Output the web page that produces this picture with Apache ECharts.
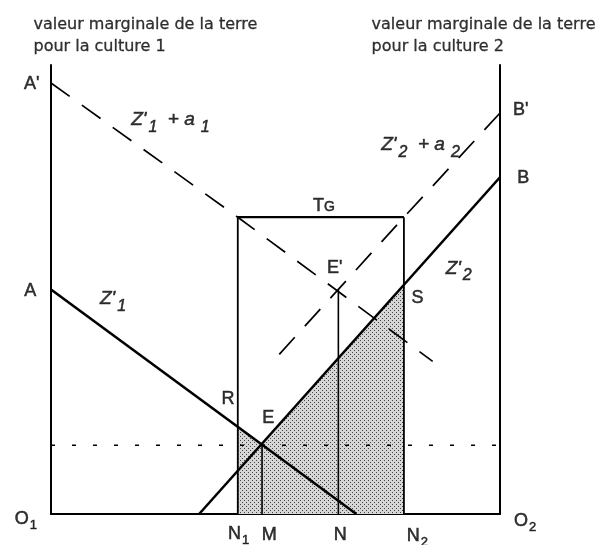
<!DOCTYPE html>
<html>
<head>
<meta charset="utf-8">
<script src="https://cdn.jsdelivr.net/npm/echarts@6/dist/echarts.min.js"></script>
<style>
  html, body { margin: 0; padding: 0; background: #fff; }
  #chart { width: 598px; height: 545px; }
</style>
</head>
<body>
<div id="chart"></div>
<script>
const chart = echarts.init(document.getElementById('chart'));

// curves (value units, 0..100 on both axes)
const curveZ1 = [[0, 50], [68, 0]];
const curveZ2 = [[33, 0], [100, 75]];
const curveZ1a = [[0, 96], [41.6, 66.1], [85, 34]];
const curveZ2a = [[100, 89.3], [78.6, 66.1], [50.6, 35.3]];
const tgLine = [[41.6, 66.1], [78.6, 66.1]];
const lineN1 = [[41.6, 0], [41.6, 66.1]];
const lineN2 = [[78.6, 0], [78.6, 66.1]];
const lineM = [[47, 0], [47, 15.4]];
const lineN = [[64, 0], [64, 50]];
const priceLevel = [[0, 15.3], [100, 15.3]];
// upper edge of the shaded area between N1 and N2 (R, E, S)
const shadedTop = [[41.6, 19.4], [47, 15.4], [78.6, 51]];

// text labels: [rich text, x, y, align]
const labels = [
  ['{h|valeur marginale de la terre}', -3.9, 108.9, 'left'],
  ['{h|pour la culture 1}', -3.9, 104.0, 'left'],
  ['{h|valeur marginale de la terre}', 71.4, 108.9, 'left'],
  ['{h|pour la culture 2}', 71.4, 104.0, 'left'],
  ["{p|A'}", -4.3, 95.4, 'center'],
  ['{p|A}', -4.6, 49.2, 'center'],
  ['{p|O}{s|1}', -5.6, -1.6, 'center'],
  ["{p|B'}", 104.6, 89.6, 'center'],
  ['{p|B}', 105.2, 74.4, 'center'],
  ['{p|O}{s|2}', 105.6, -2.0, 'center'],
  ["{i|Z'}{is|1}{i|  + a}{isr|1}", 26.6, 87.4, 'center'],
  ["{i|Z'}{is|2}{i|  + a}{isr|2}", 82.3, 81.8, 'center'],
  ["{i|Z'}{is|1}", 13.8, 47.6, 'center'],
  ["{i|Z'}{is|2}", 90.8, 54.4, 'center'],
  ['{tp|T}{tg|G}', 60.8, 68.9, 'center'],
  ["{p|E'}", 63.2, 54.4, 'center'],
  ['{p|S}', 81.6, 47.6, 'center'],
  ['{p|F}', 67.3, 30.9, 'center'],
  ['{p|R}', 39.4, 25.1, 'center'],
  ['{p|E}', 48.4, 20.9, 'center'],
  ['{p|G}', 68.9, 5.1, 'center'],
  ['{p|N}{s|1}', 41.8, -4.9, 'center'],
  ['{p|M}', 48.6, -5.1, 'center'],
  ['{p|N}', 64.4, -5.1, 'center'],
  ['{p|N}{s|2}', 81.6, -5.4, 'center']
];

// stipple for the shaded surface
const dots = document.createElement('canvas');
dots.width = 4; dots.height = 4;
const dctx = dots.getContext('2d');
dctx.fillStyle = '#d6d6d6';
dctx.fillRect(0, 0, 4, 4);
dctx.fillStyle = '#444';
dctx.fillRect(0, 0, 1, 1);
dctx.fillRect(2, 2, 1, 1);

const font = "'Liberation Sans', Arial, sans-serif";
const ink = '#000';
// thin outline in the ink colour makes the glyphs as heavy as the scan
const heavy = { color: ink, textBorderColor: ink, textBorderWidth: 0.5 };
const rich = {
  h: { ...heavy, fontSize: 16, fontFamily: "'DejaVu Sans', sans-serif", lineHeight: 18, textBorderWidth: 0.3 },
  p: { ...heavy, fontSize: 18, fontFamily: font, lineHeight: 22, verticalAlign: 'top' },
  s: { ...heavy, fontSize: 13, fontFamily: font, lineHeight: 14, padding: [9, 0, 0, 1], verticalAlign: 'top' },
  tp: { ...heavy, fontSize: 18, fontFamily: font, lineHeight: 20, verticalAlign: 'bottom' },
  tg: { ...heavy, fontSize: 14, fontFamily: font, lineHeight: 16, verticalAlign: 'bottom' },
  i: { ...heavy, fontSize: 19, fontFamily: font, fontStyle: 'italic', lineHeight: 22, verticalAlign: 'top' },
  is: { ...heavy, fontSize: 16, fontFamily: font, fontStyle: 'italic', lineHeight: 15, padding: [9, 0, 0, 2], verticalAlign: 'top' },
  isr: { ...heavy, fontSize: 16, fontFamily: font, fontStyle: 'italic', lineHeight: 15, padding: [9, 0, 0, 6], verticalAlign: 'top' }
};

function seg(data, width, type) {
  return {
    type: 'line', data: data, symbol: 'none', silent: true, clip: false,
    lineStyle: { color: ink, width: width, type: type || 'solid' }
  };
}

const option = {
  animation: false,
  backgroundColor: '#fff',
  grid: { left: 51, right: 98, top: 65, bottom: 31 },
  xAxis: {
    type: 'value', min: 0, max: 100,
    axisLine: { show: true, onZero: false, lineStyle: { color: ink, width: 2 } },
    axisTick: { show: false }, axisLabel: { show: false }, splitLine: { show: false }
  },
  yAxis: [
    {
      type: 'value', min: 0, max: 100, position: 'left',
      axisLine: { show: true, lineStyle: { color: ink, width: 2 } },
      axisTick: { show: false }, axisLabel: { show: false }, splitLine: { show: false }
    },
    {
      type: 'value', min: 0, max: 100, position: 'right',
      axisLine: { show: true, lineStyle: { color: ink, width: 2 } },
      axisTick: { show: false }, axisLabel: { show: false }, splitLine: { show: false }
    }
  ],
  series: [
    {
      type: 'line', data: shadedTop, symbol: 'none', silent: true,
      lineStyle: { width: 0 },
      areaStyle: { origin: 'start', color: { image: dots, repeat: 'repeat' }, opacity: 1 }
    },
    seg(priceLevel, 1.6, [4, 17]),
    seg(curveZ1a, 1.7, [23, 15]),
    seg(curveZ2a, 1.7, [23, 15]),
    seg(tgLine, 2.2),
    seg(lineN1, 1.8),
    seg(lineN2, 1.8),
    seg(lineM, 1.6),
    seg(lineN, 1.6),
    seg(curveZ1, 2.6),
    seg(curveZ2, 2.6),
    {
      type: 'scatter', symbolSize: 0, silent: true, clip: false,
      data: labels.map(l => ({
        value: [l[1], l[2]],
        label: {
          show: true, position: 'inside', align: l[3],
          formatter: l[0], rich: rich
        }
      }))
    }
  ]
};

chart.setOption(option);
</script>
</body>
</html>
